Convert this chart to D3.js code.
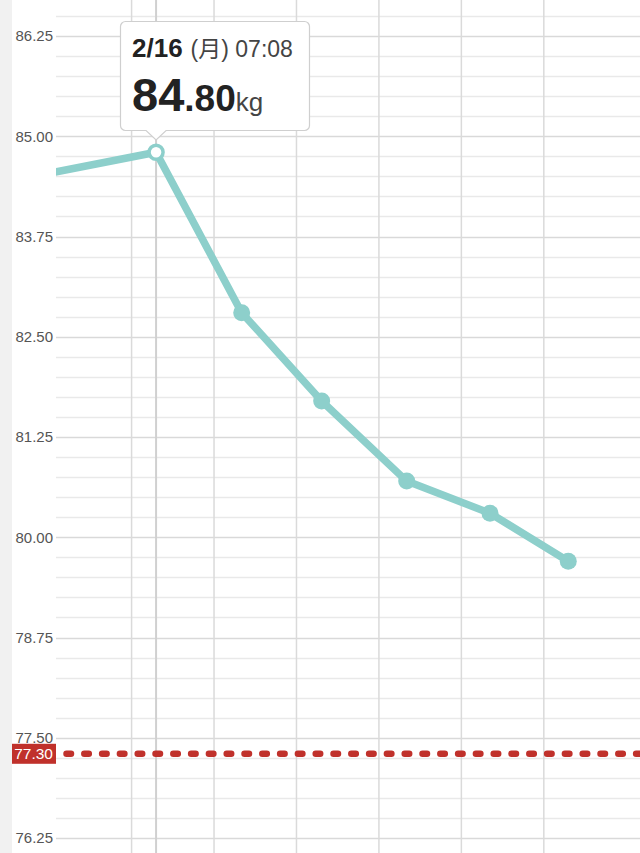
<!DOCTYPE html>
<html>
<head>
<meta charset="utf-8">
<script src="https://cdn.jsdelivr.net/npm/d3@7"></script>
<style>
  html, body { margin: 0; padding: 0; background: #fff; }
  svg { display: block; font-family: "Liberation Sans", Arial, "Noto Sans CJK JP", sans-serif; }
</style>
</head>
<body>
<svg id="chart" width="640" height="853"></svg>
<script>
// ---- data ----
const dates = ["2015-02-14T07:30", "2015-02-16T07:08", "2015-02-17T08:03", "2015-02-18T07:20",
               "2015-02-19T08:05", "2015-02-20T08:20", "2015-02-21T07:07"];
const weights = [84.40, 84.80, 82.80, 81.70, 80.70, 80.30, 79.70];
const yTickValues = [86.25, 85.00, 83.75, 82.50, 81.25, 80.00, 78.75, 77.50, 76.25];
const yTickLabels = ["86.25", "85.00", "83.75", "82.50", "81.25", "80.00", "78.75", "77.50", "76.25"];
const dayLines = ["2015-02-16", "2015-02-17", "2015-02-18", "2015-02-19", "2015-02-20", "2015-02-21"];
const goalValue = 77.30;
const goalLabel = "77.30";
const selectedIndex = 1;
const tipDate = "2/16";
const tipRest = "(月) 07:08";
const tipInt = "84";
const tipDec = ".80";
const tipUnit = "kg";

// ---- layout ----
const W = 640, H = 853;
const plotLeft = 56;
const teal = "#8dcfcb";
const red = "#c0312b";

const parse = d3.timeParse("%Y-%m-%dT%H:%M");
const parseDay = d3.timeParse("%Y-%m-%d");
const pts = dates.map((d, i) => ({ t: parse(d), v: weights[i] }));

const x = d3.scaleTime()
  .domain([parse("2015-02-15T02:00"), parse("2015-02-22T04:00")])
  .range([plotLeft, W]);
const y = d3.scaleLinear().domain([76.25, 86.25]).range([838, 36]);

const svg = d3.select("#chart");

// left gray strip
svg.append("rect").attr("x", 0).attr("y", 0).attr("width", 12).attr("height", H).attr("fill", "#f1f1f1");

// horizontal grid (minor every 0.25, major every 1.25)
const minor = d3.range(76.0, 86.51, 0.25);
svg.append("g").selectAll("line").data(minor).join("line")
  .attr("x1", plotLeft).attr("x2", W)
  .attr("y1", d => Math.round(y(d)) + 0.5).attr("y2", d => Math.round(y(d)) + 0.5)
  .attr("stroke", d => yTickValues.some(t => Math.abs(t - d) < 1e-6) ? "#d9d9d9" : "#e9e9e9")
  .attr("stroke-width", 1.5);

// vertical day lines
svg.append("g").selectAll("line").data(dayLines.map(parseDay)).join("line")
  .attr("x1", d => x(d)).attr("x2", d => x(d))
  .attr("y1", 0).attr("y2", H)
  .attr("stroke", "#dadada").attr("stroke-width", 1.5);

// crosshair at selected point
const sel = pts[selectedIndex];
svg.append("line")
  .attr("x1", x(sel.t)).attr("x2", x(sel.t)).attr("y1", 0).attr("y2", H)
  .attr("stroke", "#d0d0d0").attr("stroke-width", 2);

// y axis labels
svg.append("g").selectAll("text").data(yTickValues).join("text")
  .attr("x", 53).attr("y", d => y(d)).attr("dy", "0.36em")
  .attr("text-anchor", "end").attr("font-size", 15).attr("fill", "#555")
  .text((d, i) => yTickLabels[i]);

// goal line
const gy = y(goalValue);
svg.append("line")
  .attr("x1", plotLeft + 10.5).attr("x2", W + 12).attr("y1", gy).attr("y2", gy)
  .attr("stroke", red).attr("stroke-width", 6.5)
  .attr("stroke-linecap", "round").attr("stroke-dasharray", "4.5,13.3");
svg.append("rect").attr("x", 12).attr("y", gy - 10).attr("width", plotLeft - 12).attr("height", 20).attr("fill", red);
svg.append("text").attr("x", 53).attr("y", gy).attr("dy", "0.36em")
  .attr("text-anchor", "end").attr("font-size", 15.5).attr("fill", "#fff").text(goalLabel);

// clip for series
svg.append("clipPath").attr("id", "clip").append("rect")
  .attr("x", plotLeft).attr("y", 0).attr("width", W - plotLeft).attr("height", H);

const g = svg.append("g").attr("clip-path", "url(#clip)");
const line = d3.line().x(d => x(d.t)).y(d => y(d.v));
g.append("path").datum(pts).attr("d", line)
  .attr("fill", "none").attr("stroke", teal).attr("stroke-width", 7.5).attr("stroke-linejoin", "round");

g.selectAll("circle.pt").data(pts.filter((d, i) => i !== selectedIndex)).join("circle")
  .attr("class", "pt").attr("cx", d => x(d.t)).attr("cy", d => y(d.v)).attr("r", 8.5).attr("fill", teal);

g.append("circle").attr("cx", x(sel.t)).attr("cy", y(sel.v)).attr("r", 7)
  .attr("fill", "#fff").attr("stroke", teal).attr("stroke-width", 3.5);

// tooltip
const cx = x(sel.t);
const bx0 = 120.5, bx1 = 309.5, by0 = 21.5, by1 = 130.5, r = 5;
const tipY = 140, half = 10;
const p = d3.path();
p.moveTo(bx0 + r, by0);
p.lineTo(bx1 - r, by0);
p.arcTo(bx1, by0, bx1, by0 + r, r);
p.lineTo(bx1, by1 - r);
p.arcTo(bx1, by1, bx1 - r, by1, r);
p.lineTo(cx + half, by1);
p.lineTo(cx, tipY);
p.lineTo(cx - half, by1);
p.lineTo(bx0 + r, by1);
p.arcTo(bx0, by1, bx0, by1 - r, r);
p.lineTo(bx0, by0 + r);
p.arcTo(bx0, by0, bx0 + r, by0, r);
p.closePath();
svg.append("path").attr("d", p.toString())
  .attr("fill", "#fff").attr("stroke", "#cfcfcf").attr("stroke-width", 1.2);

const t1 = svg.append("text").attr("x", 132).attr("y", 57);
t1.append("tspan").attr("font-size", 26).attr("font-weight", "bold").attr("fill", "#222").text(tipDate);
t1.append("tspan").attr("dx", 8).attr("font-size", 23).attr("fill", "#444").text(tipRest);

const t2 = svg.append("text").attr("x", 132).attr("y", 110.5);
t2.append("tspan").attr("font-size", 47).attr("font-weight", "bold").attr("fill", "#222").text(tipInt);
t2.append("tspan").attr("font-size", 37).attr("font-weight", "bold").attr("fill", "#222").text(tipDec);
t2.append("tspan").attr("font-size", 26).attr("fill", "#444").text(tipUnit);
</script>
</body>
</html>
